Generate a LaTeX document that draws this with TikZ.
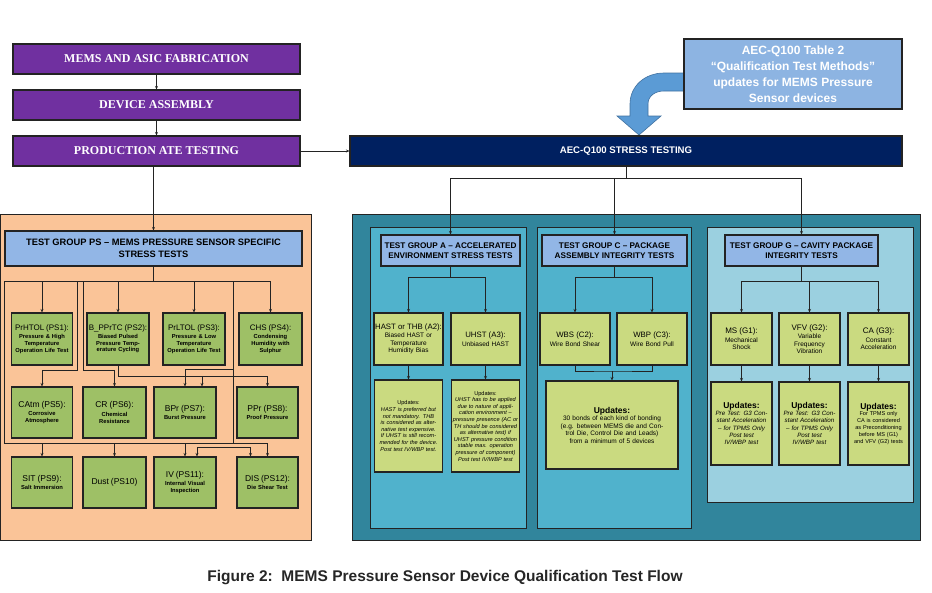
\documentclass[tikz,border=0pt]{standalone}
\usepackage{fontspec}
\setmainfont{Liberation Sans}
\newfontfamily\serifbold{Liberation Serif}
\usepackage{xcolor}
\usetikzlibrary{arrows.meta}
\usetikzlibrary{calc}

\definecolor{edge}{RGB}{35,35,35}
\definecolor{flowpurple}{RGB}{112,48,160}
\definecolor{navy}{RGB}{0,32,96}
\definecolor{callblue}{RGB}{141,180,226}
\definecolor{arrowblue}{RGB}{91,155,213}
\definecolor{arrowline}{RGB}{65,113,160}
\definecolor{peach}{RGB}{250,196,152}
\definecolor{headblue}{RGB}{146,182,230}
\definecolor{psgreen}{RGB}{158,192,102}
\definecolor{teal}{RGB}{49,133,156}
\definecolor{cyanpanel}{RGB}{80,178,204}
\definecolor{lightpanel}{RGB}{155,208,224}
\definecolor{aecgreen}{RGB}{202,218,128}

\begin{document}
\begin{tikzpicture}[x=1pt,y=-1pt,
    box/.style={draw=edge,line width=1.1pt,inner sep=1pt,align=center},
    flowbox/.style={box,fill=flowpurple,text=white,minimum width=287,minimum height=30,
      font=\serifbold\fontsize{12}{14}\selectfont\bfseries},
    headbox/.style={box,fill=headblue,minimum height=31,font=\fontsize{8.2}{10}\selectfont\bfseries},
    psbox/.style={box,fill=psgreen,minimum height=52,text width=59,font=\fontsize{5.8}{6.8}\selectfont\bfseries},
    aecbox/.style={box,fill=aecgreen,minimum height=52,font=\fontsize{6.5}{7.5}\selectfont},
    updbox/.style={box,fill=aecgreen,font=\fontsize{5.6}{6.6}\selectfont},
    panel/.style={draw=edge,line width=0.9pt},
    link/.style={draw=edge,line width=0.8pt},
    arr/.style={link,-{Stealth[length=3.5pt,width=3pt]}}]
\useasboundingbox (0,0) rectangle (932,592);

% panels
\node[panel,fill=peach,minimum width=311,minimum height=326] (pspanel) at (155.5,377) {};
\node[panel,fill=teal,minimum width=568,minimum height=326] (aecpanel) at (636,377) {};
\node[panel,fill=cyanpanel,minimum width=156,minimum height=301] (apanel) at (448,377.5) {};
\node[panel,fill=cyanpanel,minimum width=154,minimum height=301] (cpanel) at (614,377.5) {};
\node[panel,fill=lightpanel,minimum width=206,minimum height=275] (gpanel) at (810,364.5) {};

% block arrow from the table note
\filldraw[fill=arrowblue,draw=arrowline,line width=0.6pt]
  (684,73) -- (664,73) .. controls (645,73) and (630,86) .. (630,104) -- (630,116)
  -- (617,116) -- (639,135) -- (661,116) -- (648,116) -- (648,104)
  .. controls (648,96) and (655,91) .. (664,91) -- (684,91) -- cycle;

% process flow
\node[flowbox] (fab) at (156.5,59) {MEMS AND ASIC FABRICATION};
\node[flowbox] (asm) at (156.5,105) {DEVICE ASSEMBLY};
\node[flowbox] (ate) at (156.5,151) {PRODUCTION ATE TESTING};
\node[box,fill=navy,text=white,minimum width=552,minimum height=30,
  font=\fontsize{9.6}{11}\selectfont\bfseries] (stress) at (626,151) {AEC-Q100 STRESS TESTING};
\node[box,fill=callblue,text=white,minimum width=218,minimum height=70,
  font=\fontsize{12}{16}\selectfont\bfseries] (callout) at (793,74)
  {AEC-Q100 Table 2\\``Qualification Test Methods''\\updates for MEMS Pressure\\Sensor devices};

\draw[arr] (fab) -- (asm);
\draw[arr] (asm) -- (ate);
\draw[arr] (ate) -- (stress);

% headers
\node[headbox,minimum width=297,minimum height=35,font=\fontsize{9.3}{11.5}\selectfont\bfseries] (pshead) at (153.5,248.5)
  {TEST GROUP PS -- MEMS PRESSURE SENSOR SPECIFIC\\STRESS TESTS};
\node[headbox,minimum width=139] (ahead) at (450.5,250.5) {TEST GROUP A -- ACCELERATED\\ENVIRONMENT STRESS TESTS};
\node[headbox,minimum width=145] (chead) at (614.5,250.5) {TEST GROUP C -- PACKAGE\\ASSEMBLY INTEGRITY TESTS};
\node[headbox,minimum width=153] (ghead) at (801.5,250.5) {TEST GROUP G -- CAVITY PACKAGE\\INTEGRITY TESTS};

\draw[arr] (pshead.north |- ate.south) -- (pshead.north);
\coordinate (sbus) at (626,178);
\draw[link] (stress.south) -- (sbus);
\draw[arr] (sbus) -| (ahead.north);
\draw[arr] (sbus) -| (chead.north);
\draw[arr] (sbus) -| (ghead.north);

% test group PS
\node[psbox] (ps1) at (42,339) {{\fontsize{8}{9}\selectfont\mdseries PrHTOL (PS1):}\\[1pt]Pressure \& High\\Temperature\\Operation Life Test};
\node[psbox,text width=60] (ps2) at (118,339) {{\fontsize{8}{9}\selectfont\mdseries B\_PPrTC (PS2):}\\[1pt]Biased Pulsed\\Pressure Temp-\\erature Cycling};
\node[psbox,text width=60] (ps3) at (194,339) {{\fontsize{8}{9}\selectfont\mdseries PrLTOL (PS3):}\\[1pt]Pressure \& Low\\Temperature\\Operation Life Test};
\node[psbox,text width=61] (ps4) at (270.5,339) {{\fontsize{8}{9}\selectfont\mdseries CHS (PS4):}\\[1pt]Condensing\\Humidity with\\Sulphur};
\node[psbox,minimum height=51] (ps5) at (42,412.5) {{\fontsize{8.5}{10}\selectfont\mdseries CAtm (PS5):}\\[2pt]Corrosive\\Atmosphere};
\node[psbox,minimum height=51,text width=61] (ps6) at (114.5,412.5) {{\fontsize{8.5}{10}\selectfont\mdseries CR (PS6):}\\[2pt]Chemical\\Resistance};
\node[psbox,minimum height=51,text width=60] (ps7) at (185,412.5) {{\fontsize{8.5}{10}\selectfont\mdseries BPr (PS7):}\\[1pt]Burst Pressure};
\node[psbox,minimum height=51] (ps8) at (267.5,412.5) {{\fontsize{8.5}{10}\selectfont\mdseries PPr (PS8):}\\[1pt]Proof Pressure};
\node[psbox,minimum height=51] (ps9) at (42,482.5) {{\fontsize{8.5}{10}\selectfont\mdseries SIT (PS9):}\\[1pt]Salt Immersion};
\node[psbox,minimum height=51,text width=61] (ps10) at (114.5,482.5) {{\fontsize{8.5}{10}\selectfont\mdseries Dust (PS10)}};
\node[psbox,minimum height=51,text width=60] (ps11) at (185,482.5) {{\fontsize{8.5}{10}\selectfont\mdseries IV (PS11):}\\[1pt]Internal Visual\\Inspection};
\node[psbox,minimum height=51] (ps12) at (267.5,482.5) {{\fontsize{8.5}{10}\selectfont\mdseries DIS (PS12):}\\[1pt]Die Shear Test};

\coordinate (pbus) at (153.5,281);
\coordinate (pleft) at (4,281);
\coordinate (pright) at (270.5,281);
\coordinate (plow) at (4,443);
\coordinate (plowr) at (267.5,443);
\draw[link] (pshead.south) -- (pbus);
\draw[link] (pleft) -- (pright);
\draw[link] (pleft) -- (plow) -- (plowr);
\foreach \n in {ps1,ps2,ps3,ps4}
    \draw[arr] (\n.north |- pbus) -- (\n.north);
\foreach \n in {ps9,ps10,ps11,ps12}
    \draw[arr] (\n.north |- plow) -- (\n.north);
\coordinate (tapa) at (77,281);
\coordinate (tapb) at (83,281);
\coordinate (tapc) at (233,281);
\coordinate (tapd) at (233,447);
\draw[arr] (tapa) -- ++(0,89) -| (ps5.north);
\draw[arr] (tapb) -- ++(0,89) -| (ps6.north);
\draw[arr] (tapc) -- ++(0,88) -| (ps7.north);
\draw[link] (tapc) -- (tapc |- plow);
\draw[arr] (ps2.south) -- ++(0,11) -| ([xshift=17]ps7.north);
\draw[arr] (ps2.south) -- ++(0,11) -| (ps8.north);
\draw[arr] (tapd) -| ([xshift=12]ps11.north);
\draw[arr] (tapd) -| ([xshift=-17]ps12.north);

% test group A
\node[aecbox,text width=67] (a2) at (408.5,339) {{\fontsize{7.8}{9}\selectfont HAST or THB (A2):}\\[1pt]Biased HAST or\\Temperature\\Humidity Bias};
\node[aecbox,text width=67] (a3) at (485.5,339) {{\fontsize{7.8}{9}\selectfont UHST (A3):}\\[1pt]Unbiased HAST};
\node[updbox,text width=66,minimum height=92] (a2u) at (408.5,426) {Updates:\\\textit{HAST is preferred but not mandatory. THB is considered as alternative test expensive. If UHST is still recommended for the device.\\Post test IV/WBP test.}};
\node[updbox,text width=66,minimum height=92] (a3u) at (485.5,426) {Updates:\\\textit{UHST has to be applied due to nature of application environment -- pressure presence (AC or TH should be considered as alternative test) if UHST pressure condition stable max. operation pressure of component)\\Post test IV/WBP test}};
\draw[arr] (ahead.south) -- ++(0,11) -| (a2.north);
\draw[arr] (ahead.south) -- ++(0,11) -| (a3.north);
\foreach \t/\u in {a2/a2u,a3/a3u}
    \draw[arr] (\t.south) -- (\u.north);

% test group C
\node[aecbox,text width=68] (c2) at (575,339) {{\fontsize{7.8}{9}\selectfont WBS (C2):}\\[1pt]Wire Bond Shear};
\node[aecbox,text width=68] (c3) at (652,339) {{\fontsize{7.8}{9}\selectfont WBP (C3):}\\[1pt]Wire Bond Pull};
\node[updbox,text width=130,minimum height=88,font=\fontsize{6.5}{7.5}\selectfont] (cu) at (612,425)
  {{\fontsize{8.5}{10}\selectfont\bfseries Updates:}\\30 bonds of each kind of bonding (e.g. between MEMS die and Control Die, Control Die and Leads) from a minimum of 5 devices};
\draw[arr] (chead.south) -- ++(0,11) -| (c2.north);
\draw[arr] (chead.south) -- ++(0,11) -| (c3.north);
\coordinate (cjoin) at (612,371);
\draw[link] (c2.south) |- (cjoin) -| (c3.south);
\draw[arr] (cjoin) -- (cu.north);

% test group G
\node[aecbox,text width=59] (g1) at (741.5,339) {{\fontsize{8}{9.5}\selectfont MS (G1):}\\[1pt]Mechanical\\Shock};
\node[aecbox,text width=59] (g2) at (809.5,339) {{\fontsize{8}{9.5}\selectfont VFV (G2):}\\[1pt]Variable\\Frequency\\Vibration};
\node[aecbox,text width=59] (g3) at (878.5,339) {{\fontsize{8}{9.5}\selectfont CA (G3):}\\[1pt]Constant\\Acceleration};
\node[updbox,text width=59,minimum height=83,font=\fontsize{6.2}{7.3}\selectfont] (g1u) at (741.5,423.5) {{\fontsize{8.5}{10}\selectfont\bfseries Updates:}\\\textit{Pre Test: G3 Constant Acceleration -- for TPMS Only\\Post test IV/WBP test}};
\node[updbox,text width=59,minimum height=83,font=\fontsize{6.2}{7.3}\selectfont] (g2u) at (809.5,423.5) {{\fontsize{8.5}{10}\selectfont\bfseries Updates:}\\\textit{Pre Test: G3 Constant Acceleration -- for TPMS Only\\Post test IV/WBP test}};
\node[updbox,text width=59,minimum height=83,font=\fontsize{5.6}{6.8}\selectfont] (g3u) at (878.5,423.5) {{\fontsize{8.5}{10}\selectfont\bfseries Updates:}\\For TPMS only CA is considered as Preconditioning before MS (G1) and VFV (G2) tests};
\foreach \t in {g1,g2,g3}
    \draw[arr] (ghead.south) -- ++(0,15) -| (\t.north);
\foreach \t/\u in {g1/g1u,g2/g2u,g3/g3u}
    \draw[arr] (\t.south) -- (\u.north);

% caption
\node[font=\fontsize{15.5}{18}\selectfont\bfseries,text=black!85] (caption) at (445,578)
  {Figure 2:\ \ MEMS Pressure Sensor Device Qualification Test Flow};
\end{tikzpicture}
\end{document}
